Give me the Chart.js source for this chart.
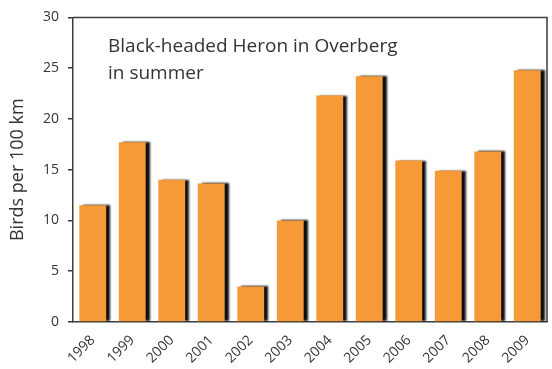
<!DOCTYPE html>
<html>
<head>
<meta charset="utf-8">
<script src="https://cdn.jsdelivr.net/npm/chart.js@4"></script>
<style>
  html, body { margin: 0; padding: 0; background: #fff; }
  #wrap { width: 552px; height: 369px; }
</style>
</head>
<body>
<div id="wrap"><canvas id="herons"></canvas></div>
<script>
const years = ['1998', '1999', '2000', '2001', '2002', '2003', '2004', '2005', '2006', '2007', '2008', '2009'];
const birdsPer100km = [11.5, 17.7, 14.0, 13.65, 3.5, 10.0, 22.3, 24.2, 15.9, 14.9, 16.8, 24.8];
const yTicks = [0, 5, 10, 15, 20, 25, 30];
const chartNote = ['Black-headed Heron in Overberg', 'in summer'];

const FONT = "'Open Sans', 'Noto Sans', sans-serif";
const INK = '#333333';
const FRAME = '#3c3c3c';

// black drop shadow on the right of every bar
const barShadow = {
    id: 'barShadow',
    beforeDatasetDraw(chart) {
        const ctx = chart.ctx;
        ctx.save();
        ctx.shadowColor = 'rgba(0,0,0,0.95)';
        ctx.shadowBlur = 2;
        ctx.shadowOffsetX = 4;
        ctx.shadowOffsetY = 0;
    },
    afterDatasetDraw(chart) {
        chart.ctx.restore();
    }
};

// box round the plot and the note in its top left corner
const frameAndNote = {
    id: 'frameAndNote',
    afterDraw(chart) {
        const ctx = chart.ctx;
        const a = chart.chartArea;
        ctx.save();
        ctx.strokeStyle = FRAME;
        ctx.lineWidth = 1.5;
        ctx.beginPath();
        ctx.moveTo(a.left, a.top);
        ctx.lineTo(a.right, a.top);
        ctx.lineTo(a.right, a.bottom);
        ctx.stroke();
        ctx.fillStyle = INK;
        ctx.font = '19px ' + FONT;
        ctx.textBaseline = 'middle';
        chartNote.forEach((line, i) => ctx.fillText(line, a.left + 35, a.top + 29 + i * 27));
        ctx.restore();
    }
};

new Chart(document.getElementById('herons'), {
    type: 'bar',
    data: {
        labels: years,
        datasets: [{
            data: birdsPer100km,
            backgroundColor: '#F69A37',
            borderWidth: 0,
            categoryPercentage: 1,
            barPercentage: 0.68
        }]
    },
    options: {
        responsive: true,
        maintainAspectRatio: false,
        animation: false,
        layout: { padding: { left: 0, top: 11, right: 5, bottom: 0 } },
        plugins: { legend: { display: false }, tooltip: { enabled: false } },
        scales: {
            x: {
                grid: { display: false },
                border: { display: true, color: FRAME, width: 1.5 },
                ticks: {
                    color: INK,
                    font: { family: FONT, size: 14 },
                    minRotation: 45,
                    maxRotation: 45,
                    padding: 2
                },
                afterFit(scale) { scale.height = 47; }
            },
            y: {
                min: 0,
                max: 30,
                afterBuildTicks(scale) { scale.ticks = yTicks.map(v => ({ value: v })); },
                grid: { drawOnChartArea: false, drawTicks: true, tickLength: 5, color: FRAME, lineWidth: 1.5 },
                border: { display: true, color: FRAME, width: 1.5 },
                ticks: {
                    color: INK,
                    font: { family: FONT, size: 14 },
                    padding: 9
                },
                title: {
                    display: true,
                    text: 'Birds per 100 km',
                    color: INK,
                    font: { family: FONT, size: 18 },
                    padding: { top: 7, bottom: 0 }
                },
                afterFit(scale) { scale.width = 73; }
            }
        }
    },
    plugins: [barShadow, frameAndNote]
});
</script>
</body>
</html>
